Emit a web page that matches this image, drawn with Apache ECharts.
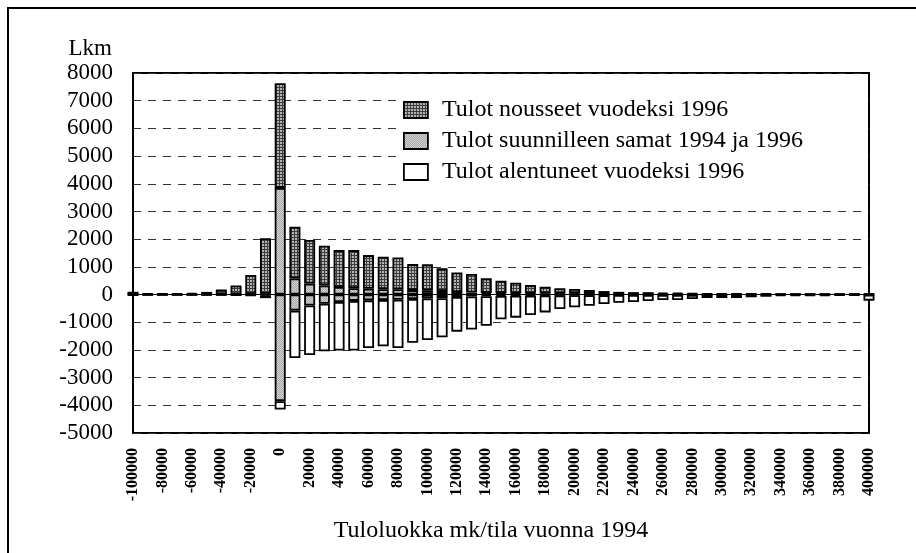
<!DOCTYPE html>
<html>
<head>
<meta charset="utf-8">
<script src="https://cdn.jsdelivr.net/npm/echarts@6/dist/echarts.min.js"></script>
<style>
  html, body { margin: 0; padding: 0; background: #fff; }
  #chart { width: 916px; height: 553px; }
</style>
</head>
<body>
<div id="chart"></div>
<script>
const INCOME_CLASSES = [
  -100000, -90000, -80000, -70000, -60000, -50000, -40000, -30000, -20000, -10000,
  0, 10000, 20000, 30000, 40000, 50000, 60000, 70000, 80000, 90000,
  100000, 110000, 120000, 130000, 140000, 150000, 160000, 170000, 180000, 190000,
  200000, 210000, 220000, 230000, 240000, 250000, 260000, 270000, 280000, 290000,
  300000, 310000, 320000, 330000, 340000, 350000, 360000, 370000, 380000, 390000,
  400000
];

// tulot nousseet (above the "same" part)
const ROSE = [
  90, 30, 30, 40, 55, 90, 175, 320, 690, 2000,
  3780, 1870, 1575, 1430, 1335, 1375, 1215, 1170, 1150, 940,
  950, 815, 710, 670, 525, 450, 380, 300, 245, 195,
  170, 140, 105, 80, 70, 70, 50, 50, 40, 35,
  35, 35, 35, 30, 22, 22, 22, 14, 14, 14,
  35
];

// tulot suunnilleen samat (drawn half above, half below zero)
const SAME = [
  20, 10, 10, 10, 10, 10, 20, 20, 30, 60,
  7700, 1160, 790, 660, 540, 460, 420, 390, 380, 320,
  280, 260, 180, 140, 120, 100, 90, 80, 70, 60,
  56, 50, 40, 36, 32, 30, 28, 26, 24, 20,
  20, 20, 18, 16, 14, 14, 12, 12, 10, 10,
  20
];

// tulot alentuneet (below the "same" part)
const FELL = [
  20, 10, 10, 10, 10, 10, 10, 15, 20, 100,
  300, 1710, 1790, 1720, 1750, 1790, 1720, 1670, 1740, 1580,
  1500, 1410, 1250, 1190, 1070, 845, 790, 700, 610, 495,
  435, 380, 320, 280, 255, 220, 185, 185, 150, 116,
  116, 116, 90, 72, 53, 53, 44, 44, 35, 25,
  210
];

const NAMES = [
  "Tulot nousseet vuodeksi 1996",
  "Tulot suunnilleen samat 1994 ja 1996",
  "Tulot alentuneet vuodeksi 1996"
];

const FONT = "Liberation Serif";

function makePattern(size, draw) {
  const c = document.createElement("canvas");
  c.width = size;
  c.height = size;
  draw(c.getContext("2d"));
  return { image: c, repeat: "repeat" };
}

// dark grid fill
const darkFill = makePattern(3, (ctx) => {
  ctx.fillStyle = "#b4b4b4";
  ctx.fillRect(0, 0, 3, 3);
  ctx.fillStyle = "#3c3c3c";
  ctx.fillRect(0, 0, 3, 1);
  ctx.fillRect(0, 0, 1, 3);
});

// light dotted fill
const greyFill = makePattern(2, (ctx) => {
  ctx.fillStyle = "#d4d4d4";
  ctx.fillRect(0, 0, 2, 2);
  ctx.fillStyle = "#a8a8a8";
  ctx.fillRect(0, 0, 1, 1);
  ctx.fillRect(1, 1, 1, 1);
});

const barBase = {
  type: "bar",
  stack: "all",
  barWidth: 11,
  clip: false,
  emphasis: { disabled: true }
};
const border = { borderColor: "#000", borderWidth: 1.8 };

const option = {
  animation: false,
  textStyle: { fontFamily: FONT },
  graphic: [{
    type: "rect",
    shape: { x: 8, y: 8, width: 940, height: 580 },
    style: { fill: "none", stroke: "#000", lineWidth: 2 },
    silent: true
  }, {
    type: "text",
    x: 112,
    y: 49,
    style: {
      text: "Lkm", fill: "#000", font: "23px " + FONT,
      align: "right", verticalAlign: "middle"
    },
    silent: true
  }],
  legend: {
    data: NAMES,
    orient: "vertical",
    left: 397,
    top: 88,
    padding: [10, 62, 11, 6],
    backgroundColor: "#fff",
    itemWidth: 24,
    itemHeight: 16,
    itemGap: 7,
    icon: "rect",
    selectedMode: false,
    itemStyle: { borderColor: "#000", borderWidth: 1.8 },
    textStyle: { fontFamily: FONT, fontSize: 24, color: "#000", padding: [0, 0, 0, 9] }
  },
  grid: {
    left: 133, right: 47, top: 73, bottom: 120,
    show: true, borderColor: "#000", borderWidth: 2
  },
  xAxis: {
    type: "category",
    data: INCOME_CLASSES,
    boundaryGap: false,
    name: "Tuloluokka mk/tila vuonna 1994",
    nameLocation: "middle",
    nameGap: 86,
    nameTextStyle: { fontFamily: FONT, fontSize: 24, color: "#000", padding: [0, 20, 0, 0] },
    axisLine: { show: false, onZero: false },
    axisTick: { show: false },
    splitLine: { show: false },
    axisLabel: {
      interval: 1,
      rotate: 90,
      margin: 15,
      fontFamily: FONT,
      fontSize: 16,
      fontWeight: "bold",
      color: "#000",
      formatter: (v) => String(v)
    }
  },
  yAxis: {
    type: "value",
    min: -5000,
    max: 8000,
    interval: 1000,
    axisLine: { show: false },
    axisTick: { show: false },
    axisLabel: { margin: 20, fontFamily: FONT, fontSize: 23, color: "#000", formatter: (v) => String(v) },
    splitLine: { lineStyle: { color: "#333", width: 1, type: [8, 7] } }
  },
  series: [
    Object.assign({}, barBase, {
      name: NAMES[1],
      data: SAME.map((v) => v / 2),
      itemStyle: Object.assign({ color: greyFill }, border)
    }),
    Object.assign({}, barBase, {
      name: NAMES[1],
      data: SAME.map((v) => -v / 2),
      itemStyle: Object.assign({ color: greyFill }, border)
    }),
    Object.assign({}, barBase, {
      name: NAMES[0],
      data: ROSE,
      itemStyle: Object.assign({ color: darkFill }, border)
    }),
    Object.assign({}, barBase, {
      name: NAMES[2],
      data: FELL.map((v) => -v),
      itemStyle: Object.assign({ color: "#fff" }, border),
      markLine: {
        silent: true,
        symbol: "none",
        label: { show: false },
        lineStyle: { color: "#000", width: 1, type: "solid" },
        data: [{ yAxis: 0 }]
      }
    })
  ]
};

const chart = echarts.init(document.getElementById("chart"), null, { renderer: "canvas" });
chart.setOption(option);
window.addEventListener("resize", chart.resize);
</script>
</body>
</html>
